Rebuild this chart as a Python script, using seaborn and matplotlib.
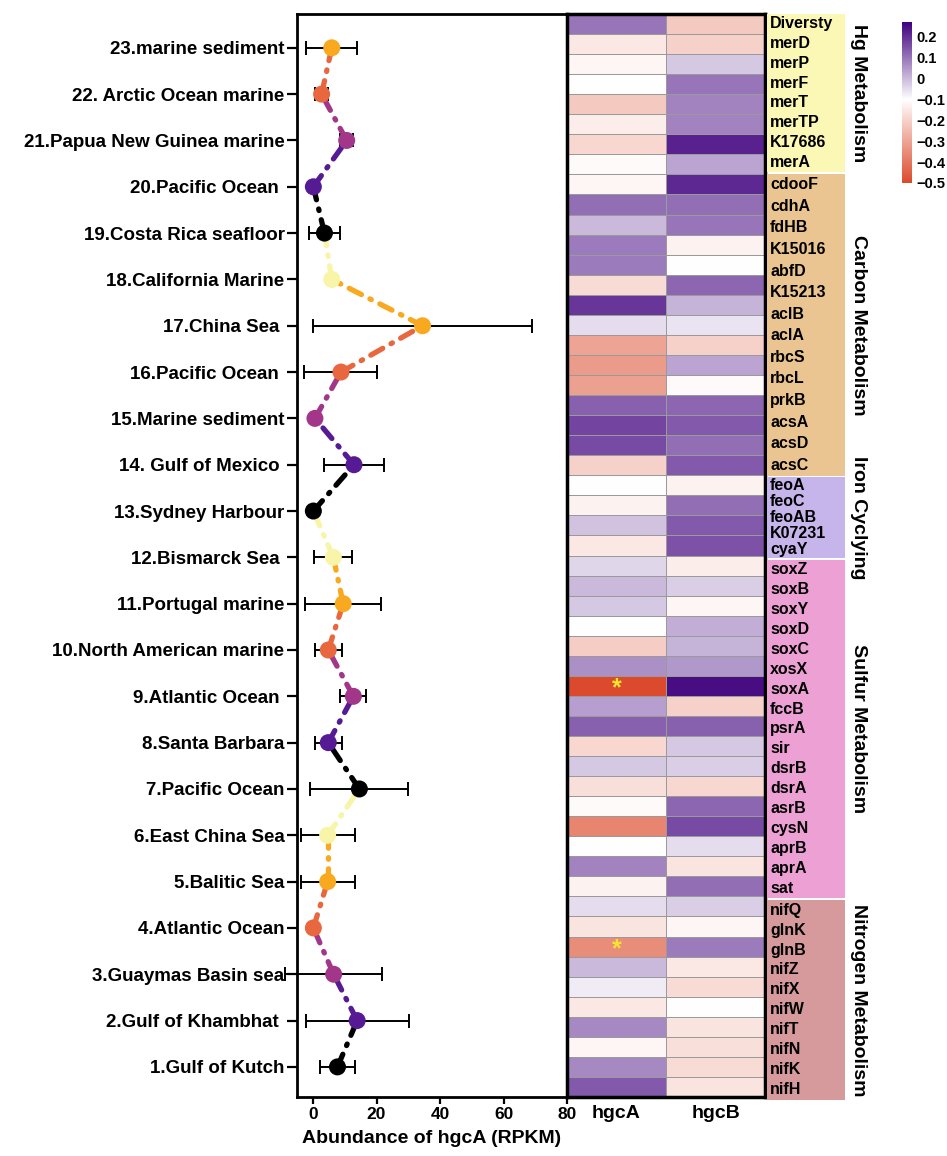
import numpy as np
import pandas as pd
import matplotlib
matplotlib.use("Agg")
import matplotlib.pyplot as plt
import seaborn as sns
from matplotlib.colors import LinearSegmentedColormap
from matplotlib.patches import Rectangle

# ---------------- data ----------------
sites = ["1.Gulf of Kutch", "2.Gulf of Khambhat ", "3.Guaymas Basin sea", "4.Atlantic Ocean",
         "5.Balitic Sea", "6.East China Sea", "7.Pacific Ocean", "8.Santa Barbara",
         "9.Atlantic Ocean ", "10.North American marine", "11.Portugal marine", "12.Bismarck Sea ",
         "13.Sydney Harbour", "14. Gulf of Mexico ", "15.Marine sediment", "16.Pacific Ocean ",
         "17.China Sea ", "18.California Marine", "19.Costa Rica seafloor", "20.Pacific Ocean ",
         "21.Papua New Guinea marine", "22. Arctic Ocean marine", "23.marine sediment"]
abundance = [7.7, 13.9, 6.5, 0.1, 4.6, 4.6, 14.6, 4.8, 12.7, 4.8, 9.5, 6.4,
             0.1, 12.9, 0.6, 8.8, 34.5, 5.9, 3.6, 0.1, 10.6, 2.7, 5.9]
abundance_err = [5.5, 16.2, 15.2, 0.0, 8.5, 8.5, 15.4, 4.2, 4.1, 4.2, 11.9, 6.0,
                 0.0, 9.5, 0.0, 11.5, 34.4, 0.0, 5.0, 0.0, 2.1, 2.1, 8.0]

hg_genes = ["Diversty", "merD", "merP", "merF", "merT", "merTP", "K17686", "merA"]
carbon_genes = ["cdooF", "cdhA", "fdHB", "K15016", "abfD", "K15213", "aclB", "aclA",
                "rbcS", "rbcL", "prkB", "acsA", "acsD", "acsC"]
iron_genes = ["feoA", "feoC", "feoAB", "K07231", "cyaY"]
sulfur_genes = ["soxZ", "soxB", "soxY", "soxD", "soxC", "xosX", "soxA", "fccB", "psrA",
                "sir", "dsrB", "dsrA", "asrB", "cysN", "aprB", "aprA", "sat"]
nitrogen_genes = ["nifQ", "glnK", "glnB", "nifZ", "nifX", "nifW", "nifT", "nifN", "nifK", "nifH"]
group_names = ["Hg Metabolism", "Carbon Metabolism", "Iron Cyclying", "Sulfur Metabolism",
               "Nitrogen Metabolism"]

corr_hgcA = [0.10, -0.15, -0.12, -0.10, -0.22, -0.14, -0.19, -0.11,
             -0.12, 0.11, 0.00, 0.09, 0.09, -0.18, 0.19, -0.05, -0.30, -0.32, -0.31, 0.13, 0.17, 0.16,
             -0.20, -0.10, -0.13, -0.01, -0.15,
             -0.04, 0.00, -0.02, -0.10, -0.21, 0.06, -0.50, 0.04, 0.13, -0.19, -0.02, -0.17, -0.11,
             -0.37, -0.10, 0.08, -0.13,
             -0.05, -0.16, -0.35, 0.00, -0.07, -0.15, 0.07, -0.12, 0.07, 0.14]
corr_hgcB = [-0.22, -0.20, -0.02, 0.10, 0.08, 0.08, 0.22, 0.03,
             0.21, 0.11, 0.10, -0.13, -0.10, 0.12, 0.01, -0.06, -0.20, 0.03, -0.11, 0.12, 0.14, 0.11,
             0.14, -0.13, 0.11, 0.14, 0.15,
             -0.14, -0.03, -0.12, 0.02, 0.01, 0.05, 0.25, -0.20, 0.13, -0.02, -0.03, -0.19, 0.12,
             0.16, -0.05, -0.16, 0.11,
             -0.03, -0.12, 0.09, -0.15, -0.18, -0.10, -0.16, -0.17, -0.18, -0.16]
significant = ["soxA", "glnB"]
heat_cols = ["hgcA", "hgcB"]
cbar_ticks = [0.2, 0.1, 0.0, -0.1, -0.2, -0.3, -0.4, -0.5]
cbar_ticklabels = ["0.2", "0.1", "0", "\u22120.1", "\u22120.2", "\u22120.3", "\u22120.4", "\u22120.5"]

# ---------------- style / layout ----------------
sns.set_style("white")
plt.rcParams['font.family'] = ['Liberation Sans', 'DejaVu Sans']
plt.rcParams['font.weight'] = 'bold'
for k in ["text.color", "axes.labelcolor", "xtick.color", "ytick.color", "axes.edgecolor"]:
    plt.rcParams[k] = "black"

W, H = 947, 1156
fig = plt.figure(figsize=(W / 100, H / 100), dpi=100)


def box(x0, y0, x1, y1):
    return [x0 / W, 1 - y1 / H, (x1 - x0) / W, (y1 - y0) / H]


point_palette = ["#000000", "#561a94", "#a2378a", "#e8673f", "#f9a920", "#f8f4a8"]
colors = [point_palette[i % 6] for i in range(len(sites))]

# ---------------- left panel ----------------
ax = fig.add_axes(box(297, 14, 567, 1097))
ypos = np.arange(len(sites))
df = pd.DataFrame({"site": sites, "y": ypos, "abundance": abundance, "err": abundance_err})

ax.errorbar(df["abundance"], df["y"], xerr=df["err"], fmt="none", ecolor="black",
            elinewidth=1.4, capsize=5, capthick=1.4, zorder=1, clip_on=False)
for i in range(len(sites) - 1):
    ax.plot(df["abundance"].iloc[i:i + 2], df["y"].iloc[i:i + 2], color=colors[i], lw=3.8,
            dashes=(2.6, 1.8, 0.3, 1.8), dash_capstyle="round", zorder=2)
sns.scatterplot(data=df, x="abundance", y="y", hue="site", palette=colors, s=150,
                linewidth=0, legend=False, ax=ax, zorder=3, clip_on=False)

ax.set_xlim(-5.05, 80)
ax.set_ylim(-0.65, 22.73)
ax.set_yticks(ypos)
ax.set_yticklabels(sites, fontsize=13.5, fontweight="bold")
ax.set_xticks([0, 20, 40, 60, 80])
ax.set_xticklabels(["0", "20", "40", "60", "80"], fontsize=12.5, fontweight="bold")
ax.set_xlabel("Abundance of hgcA (RPKM)", fontsize=14, fontweight="bold", labelpad=6)
ax.set_ylabel("")
ax.tick_params(axis="y", length=7, width=1.6, pad=2, left=True)
ax.tick_params(axis="x", length=5, width=1.6, pad=2, bottom=True)
for s in ax.spines.values():
    s.set_visible(True)
    s.set_linewidth(2)
    s.set_color("black")

# ---------------- heatmap ----------------
genes = hg_genes + carbon_genes + iron_genes + sulfur_genes + nitrogen_genes
heat = pd.DataFrame({"hgcA": corr_hgcA, "hgcB": corr_hgcB}, index=genes)[heat_cols]
cmap = LinearSegmentedColormap.from_list(
    "rdpu", [(0.0, "#db4a2c"), (0.4 / 0.77, "#ffffff"), (1.0, "#3f007d")])

ax_hm = fig.add_axes(box(567, 14, 765, 1097))
cax = fig.add_axes(box(902, 22, 912, 183))
sns.heatmap(heat, ax=ax_hm, cmap=cmap, vmin=-0.5, vmax=0.27, cbar_ax=cax,
            linewidths=0.6, linecolor="#9a9a9a", yticklabels=False)
ax_hm.set_xticklabels(heat_cols, fontsize=14, fontweight="bold", rotation=0)
ax_hm.tick_params(axis="x", length=0, pad=6)
ax_hm.set_ylabel("")
for s in ax_hm.spines.values():
    s.set_visible(True)
    s.set_linewidth(2.5)
    s.set_color("black")
for g in significant:
    r = genes.index(g)
    ax_hm.text(0.5, r + 0.62, "*", ha="center", va="center", color="#f4e62c",
               fontsize=18, fontweight="bold")

cbar = ax_hm.collections[0].colorbar
cbar.outline.set_visible(False)
cbar.set_ticks(cbar_ticks)
cbar.set_ticklabels(cbar_ticklabels)
cbar.ax.tick_params(length=0, labelsize=10.5, pad=3)
for t in cbar.ax.get_yticklabels():
    t.set_fontweight("bold")

# ---------------- annotation strip ----------------
groups = [hg_genes, carbon_genes, iron_genes, sulfur_genes, nitrogen_genes]
group_colors = ["#fbf7b4", "#ebc591", "#c6b5ea", "#eda0d4", "#d69a9c"]
group_spans = [(14, 172), (174, 476), (477, 558), (560, 898), (900, 1100)]

ax_ann = fig.add_axes(box(767, 14, 845, 1100))
ax_ann.set_xlim(0, 1)
ax_ann.set_ylim(1100, 14)
ax_ann.axis("off")
for gl, gname, gc, (y0, y1) in zip(groups, group_names, group_colors, group_spans):
    ax_ann.add_patch(Rectangle((0, y0), 1, y1 - y0, facecolor=gc, edgecolor="none"))
    step = (y1 - y0) / len(gl)
    for k, gene in enumerate(gl):
        ax_ann.text(0.04, y0 + (k + 0.5) * step, gene, ha="left", va="center",
                    fontsize=11.5, fontweight="bold", color="black")
    fig.text(858 / W, 1 - ((y0 + y1) / 2) / H, gname, rotation=270, ha="center",
             va="center", fontsize=14, fontweight="bold")

fig.savefig("out.png", dpi=100)
